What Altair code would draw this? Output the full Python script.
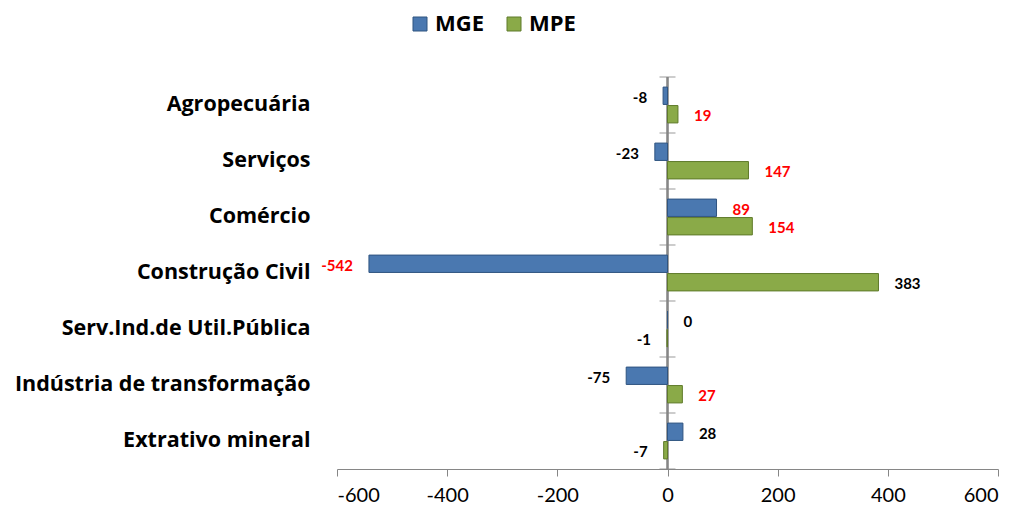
import altair as alt
import pandas as pd

categories = ["Agropecuária", "Serviços", "Comércio", "Construção Civil",
              "Serv.Ind.de Util.Pública", "Indústria de transformação", "Extrativo mineral"]
series = ["MGE", "MPE"]
mge = [-8, -23, 89, -542, 0, -75, 28]
mpe = [19, 147, 154, 383, -1, 27, -7]
mge_red = [False, False, True, True, False, False, False]
mpe_red = [True, True, True, False, False, True, False]
x_ticks = [-600, -400, -200, 0, 200, 400, 600]
separators = list(range(len(categories) + 1))

rows = []
for c, a, b, ra, rb in zip(categories, mge, mpe, mge_red, mpe_red):
    rows.append({"cat": c, "serie": "MGE", "v": a, "lab": str(a), "tc": "#FF0000" if ra else "#000000"})
    rows.append({"cat": c, "serie": "MPE", "v": b, "lab": str(b), "tc": "#FF0000" if rb else "#000000"})
df = pd.DataFrame(rows)
sep_df = pd.DataFrame({"s": separators})

FONT = "Lato"
CAT_FONT = "Open Sans"
GRAY = "#868686"

yscale = alt.Scale(domain=categories, paddingInner=0.36, paddingOuter=0.18)
yoff = alt.YOffset("serie:N", scale=alt.Scale(domain=series, paddingInner=0.06))
yenc = alt.Y("cat:N", scale=yscale, sort=categories,
             axis=alt.Axis(title=None, domain=False, ticks=False, labelFontSize=21.5,
                           labelFont=CAT_FONT, labelFontWeight="bold", labelColor="#000000",
                           labelPadding=27, labelLimit=400))

bars = alt.Chart(df).mark_bar(strokeWidth=1).encode(
    x=alt.X("v:Q", scale=alt.Scale(domain=[-600, 600]),
            axis=alt.Axis(values=x_ticks, title=None, grid=False, domainColor=GRAY,
                          tickColor=GRAY, tickSize=7, labelFontSize=20, labelFont=FONT,
                          labelColor="#000000", labelPadding=9,
                          labelExpr="'' + datum.value")),
    y=yenc,
    yOffset=yoff,
    color=alt.Color("serie:N", scale=alt.Scale(domain=series, range=["#4A78B0", "#8AAA48"]),
                    legend=alt.Legend(title=None, orient="none", legendX=72, legendY=-64,
                                      direction="horizontal", symbolType="square",
                                      symbolSize=196, symbolStrokeWidth=1,
                                      labelFont=CAT_FONT, labelFontSize=22, labelFontWeight="bold",
                                      labelColor="#000000", labelOffset=4, columnPadding=19)),
    stroke=alt.Stroke("serie:N", scale=alt.Scale(domain=series, range=["#2F5480", "#5F7A2A"]),
                      legend=None),
)

zero_rule = alt.Chart(df).mark_rule(color=GRAY, strokeWidth=1.2).encode(x=alt.datum(0))

text_pos = alt.Chart(df).transform_filter("datum.v >= 0").mark_text(
    align="left", dx=16, dy=2, fontSize=15, font=FONT, fontWeight="bold").encode(
    x="v:Q", y=yenc, yOffset=yoff,
    text="lab:N", color=alt.Color("tc:N", scale=None))

text_neg = alt.Chart(df).transform_filter("datum.v < 0").mark_text(
    align="right", dx=-16, dy=2, fontSize=15, font=FONT, fontWeight="bold").encode(
    x="v:Q", y=yenc, yOffset=yoff,
    text="lab:N", color=alt.Color("tc:N", scale=None))

inner = alt.layer(zero_rule, bars, text_pos, text_neg)

seps = alt.Chart(sep_df).mark_tick(orient="horizontal", size=16, thickness=1.2, color=GRAY).encode(
    x=alt.datum(0),
    y=alt.Y("s:Q", scale=alt.Scale(domain=[0, len(categories)], nice=False, zero=False), axis=None),
)

chart = alt.layer(inner, seps).resolve_scale(y="independent").properties(
    width=661, height=392,
    autosize=alt.AutoSizeParams(type="none"),
    padding={"left": 329, "top": 69, "right": 17, "bottom": 37},
).configure_view(stroke=None)

chart.save("out.html", embed_options={"renderer": "svg", "actions": False})
